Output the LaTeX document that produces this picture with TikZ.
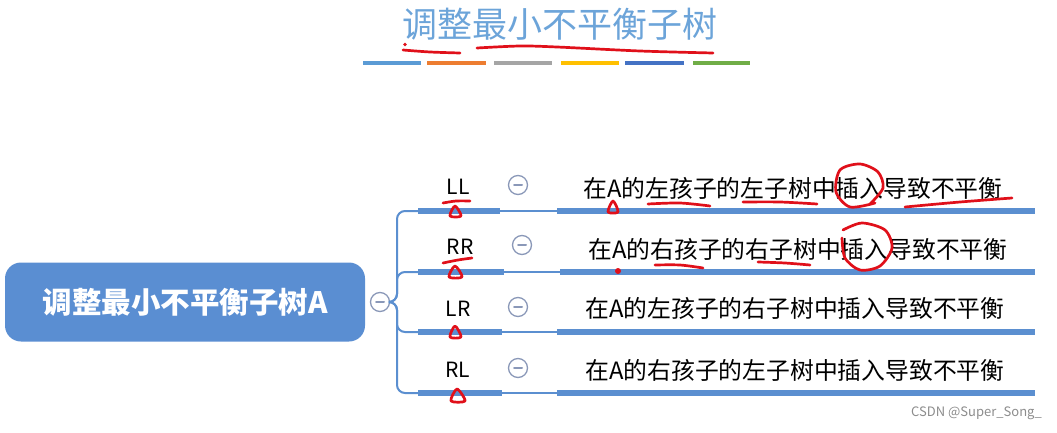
\documentclass[tikz,border=0pt]{standalone}
\usepackage{fontspec}
\setmainfont{Noto Sans CJK SC}
\definecolor{lineblue}{HTML}{5B8FD0}
\definecolor{mainblue}{HTML}{5A8ED2}
\definecolor{titleblue}{HTML}{6CA4D9}
\definecolor{toggray}{HTML}{8A98B8}
\definecolor{annred}{HTML}{E0101A}
\definecolor{cbA}{HTML}{5B9BD5}
\definecolor{cbB}{HTML}{ED7D31}
\definecolor{cbC}{HTML}{A5A5A5}
\definecolor{cbD}{HTML}{FFC000}
\definecolor{cbE}{HTML}{4472C4}
\definecolor{cbF}{HTML}{70AD47}
\begin{document}
\begin{tikzpicture}[x=1pt,y=-1pt,
  barline/.style={line width=6pt, draw=lineblue},
  thinline/.style={line width=2pt, draw=lineblue},
  lbl/.style={font=\fontsize{21}{21}\selectfont, text=black, inner sep=0pt},
  desc/.style={font=\fontsize{23.8}{24}\selectfont, text=black, inner sep=0pt},
  tog/.style={circle, draw=toggray, line width=1.3pt, minimum size=19pt, inner sep=0pt, fill=white,
    path picture={\draw[toggray, line width=2pt, line cap=round]
      ([xshift=-4pt]path picture bounding box.center) -- ([xshift=4pt]path picture bounding box.center);}},
  scrib/.style={draw=annred, line width=2.7pt, line cap=round, line join=round},
  cbar/.style={line width=4.5pt}]
\useasboundingbox (0,0) rectangle (1057,433);

% title
\node[text=titleblue, font=\fontsize{35}{35}\selectfont, inner sep=0pt] (title) at (560,24) {调整最小不平衡子树};
\draw[cbar, cbA] (363,63) -- (421,63);
\draw[cbar, cbB] (427,63) -- (486,63);
\draw[cbar, cbC] (494,63) -- (552,63);
\draw[cbar, cbD] (561,63) -- (619,63);
\draw[cbar, cbE] (625,63) -- (684,63);
\draw[cbar, cbF] (693,63) -- (750,63);

% main node
\node[fill=mainblue, rounded corners=16pt, minimum width=360pt, minimum height=79pt, inner sep=0pt,
  text=white, font=\fontsize{29.5}{30}\selectfont\bfseries] (main) at (185,302) {调整最小不平衡子树A};
\node[tog] (c0) at (380,302) {};

% branch coordinates
\coordinate (s1) at (418,211); \coordinate (e1) at (500,211); \coordinate (f1) at (557,211); \coordinate (g1) at (1035,211);
\coordinate (s2) at (418,272); \coordinate (e2) at (504,272); \coordinate (f2) at (560,272); \coordinate (g2) at (1035,272);
\coordinate (s3) at (418,332); \coordinate (e3) at (502,332); \coordinate (f3) at (557,332); \coordinate (g3) at (1035,332);
\coordinate (s4) at (418,393); \coordinate (e4) at (502,393); \coordinate (f4) at (557,393); \coordinate (g4) at (1035,393);

\foreach \i in {1,2,3,4}{
  \draw[thinline, rounded corners=8pt] (c0.east) -- (397,302) |- (s\i);
  \draw[barline] (s\i) -- (e\i);
  \draw[thinline] (e\i) -- (f\i);
  \draw[barline] (f\i) -- (g\i);
}

% labels
\node[lbl] (ll) at (458,187) {LL};
\node[lbl] (rr) at (460,247) {RR};
\node[lbl] (lr) at (458,309) {LR};
\node[lbl] (rl) at (458,370) {RL};
\node[tog] (t1) at (518,185) {};
\node[tog] (t2) at (522,245) {};
\node[tog] (t3) at (518,307) {};
\node[tog] (t4) at (518,368) {};

\node[desc] (d1) at (793,188) {在A的左孩子的左子树中插入导致不平衡};
\node[desc] (d2) at (798,249) {在A的右孩子的右子树中插入导致不平衡};
\node[desc] (d3) at (795,308) {在A的左孩子的右子树中插入导致不平衡};
\node[desc] (d4) at (795,370) {在A的右孩子的左子树中插入导致不平衡};

% red annotations
\fill[annred] (405,44.5) circle (1.8pt);
\draw[scrib] plot[smooth] coordinates {(403,50) (430,52) (460,53)};
\draw[scrib] plot[smooth] coordinates {(477,48) (520,46) (557,47) (640,51) (713,53)};

\draw[scrib] plot[smooth] coordinates {(443,203) (456,201) (470,201)};
\draw[scrib] plot[smooth cycle] coordinates {(455,206) (461,216) (450,216)};
\draw[scrib] plot[smooth] coordinates {(443,263) (458,260) (472,258)};
\draw[scrib] plot[smooth cycle] coordinates {(455,266) (462,277) (449,277)};
\draw[scrib] plot[smooth cycle] coordinates {(455,326) (461,337) (450,337)};
\draw[scrib] plot[smooth cycle] coordinates {(457,389) (465,401) (451,401)};

\draw[scrib] plot[smooth cycle] coordinates {(613,201) (618,212) (608,212)};
\draw[scrib] plot[smooth] coordinates {(648,204) (680,203) (710,206)};
\draw[scrib] plot[smooth] coordinates {(743,202) (780,202) (817,204)};
\draw[scrib] plot[smooth] coordinates {(875,203) (850,207) (836,192) (840,170) (860,164) (878,172) (883,188) (870,204)};
\draw[scrib] plot[smooth] coordinates {(905,207) (960,202) (1012,198)};

\fill[annred] (618,271) circle (3pt);
\draw[scrib] plot[smooth] coordinates {(655,265) (680,265) (703,268)};
\draw[scrib] plot[smooth] coordinates {(758,262) (785,263) (810,265)};
\draw[scrib] plot[smooth] coordinates {(843,230) (862,223) (885,230) (892,248) (880,266) (860,270) (845,258) (842,238)};

% watermark
\node[anchor=east, text=black!45, font=\fontsize{13}{13}\selectfont, inner sep=0pt] (wm) at (1042,413) {CSDN @Super\_Song\_};
\end{tikzpicture}
\end{document}
